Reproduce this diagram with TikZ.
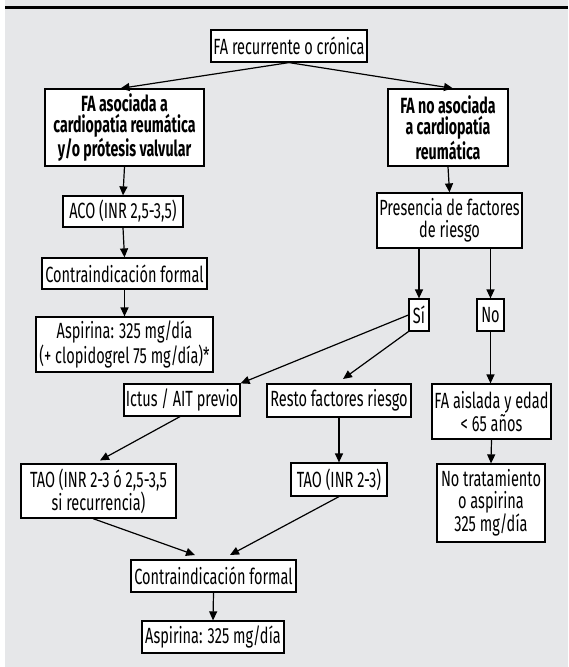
\documentclass[tikz,border=0pt]{standalone}
\usepackage{fontspec}
\setmainfont{Fira Sans}[FakeStretch=0.66, BoldFeatures={FakeStretch=0.645}]
\usetikzlibrary{arrows.meta,calc}
\definecolor{bggray}{RGB}{230,231,233}
\tikzset{
  box/.style={draw=black, line width=1.2pt, fill=white, inner sep=0pt, align=center,
    font=\fontsize{22}{21.5}\selectfont},
  bbox/.style={box, font=\fontsize{22}{21.5}\selectfont\bfseries},
  arr/.style={draw=black, line width=1.2pt, -{Triangle[length=9pt,width=8pt]}},
  ln/.style={draw=black, line width=1.2pt}
}
\begin{document}
\begin{tikzpicture}[x=1pt,y=-1pt]
\useasboundingbox (0,0) rectangle (568,667);
\fill[white] (0,0) rectangle (568,667);
\fill[bggray] (5,0) rectangle (568,667);
\draw[line width=3pt] (5,7.5) -- (568,7.5);

\node[box, minimum width=156pt, minimum height=32pt] (n0) at (289,46) {FA recurrente o crónica};
\node[bbox, minimum width=159pt, minimum height=77pt] (n1) at (124.5,127.5) {FA asociada a\\cardiopatía reumática\\y/o prótesis valvular};
\node[bbox, minimum width=120pt, minimum height=77pt] (n2) at (448,127.5) {FA no asociada\\a cardiopatía\\reumática};
\node[box, minimum width=120pt, minimum height=31pt] (n3) at (123,211.5) {ACO (INR 2,5-3,5)};
\node[box, minimum width=165pt, minimum height=31pt] (n4) at (124.5,273.5) {Contraindicación formal};
\node[box, minimum width=177pt, minimum height=55pt] (n5) at (124.5,344.5) {Aspirina: 325 mg/día\\(+ clopidogrel 75 mg/día)*};
\node[box, minimum width=145pt, minimum height=55pt] (n6) at (449.5,220.5) {Presencia de factores\\de riesgo};
\node[box, minimum width=20pt, minimum height=32pt] (n7) at (419,315) {Sí};
\node[box, minimum width=27pt, minimum height=32pt] (n8) at (490.5,315) {No};
\node[box, minimum width=116pt, minimum height=32pt] (n9) at (182,400) {Ictus / AIT previo};
\node[box, minimum width=144pt, minimum height=33pt] (n10) at (339,400.5) {Resto factores riesgo};
\node[box, minimum width=119pt, minimum height=55pt] (n11) at (491.5,411.5) {FA aislada y edad\\< 65 años};
\node[box, minimum width=155pt, minimum height=54pt] (n12) at (98.5,491) {TAO (INR 2-3 ó 2,5-3,5\\si recurrencia)};
\node[box, minimum width=96pt, minimum height=33pt] (n13) at (339,479.5) {TAO (INR 2-3)};
\node[box, minimum width=108pt, minimum height=78pt] (n14) at (491,503) {No tratamiento\\o aspirina\\325 mg/día};
\node[box, minimum width=165pt, minimum height=32pt] (n15) at (213.5,576) {Contraindicación formal};
\node[box, minimum width=142pt, minimum height=32pt] (n16) at (213,637) {Aspirina: 325 mg/día};

\coordinate (tipA) at (343,379);
\coordinate (tipB) at (195,555);
\coordinate (tipC) at (230,555);

\draw[arr] (n0.south) -- ([xshift=-4pt]n1.north);
\draw[arr] (n0.south) -- ([xshift=5pt]n2.north);
\draw[arr] (n1.south) -- (n3.north);
\draw[arr] (n3.south) -- (n4.north);
\draw[arr] (n4.south) -- (n5.north);
\draw[arr] (n2.south) -- (n6.north);
\draw[arr] (n7.north |- n6.south) -- (n7.north);
\draw[arr] (n8.north |- n6.south) -- (n8.north);
\draw[arr] (n7.west) -- (n9.north east);
\draw[arr] (n7.south west) -- (tipA);
\draw[arr] (n8.south) -- (n8.south |- n11.north);
\draw[arr] ([xshift=-2pt]n9.south) -- ([xshift=1.5pt,yshift=3pt]n12.north);
\draw[arr] (n10.south) -- (n10.south |- n13.north);
\draw[arr] (n11.south) -- (n14.north);
\draw[arr] ([xshift=-5.5pt]n12.south) -- (tipB);
\draw[arr] (n13.south) -- (tipC);
\draw[arr] (n15.south) -- (n16.north);
\end{tikzpicture}
\end{document}
